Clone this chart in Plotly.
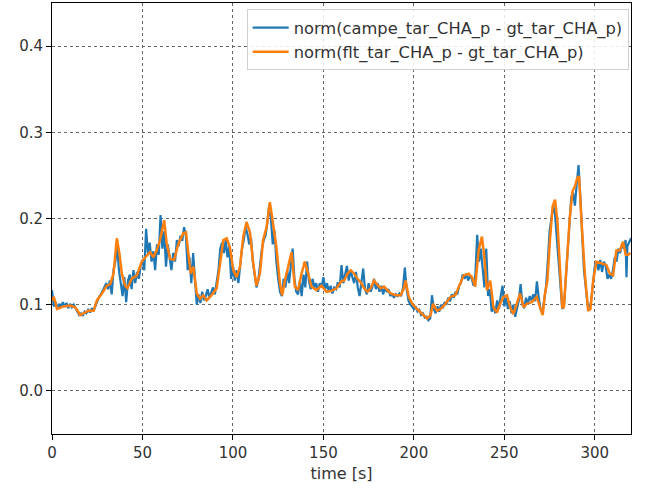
import plotly.graph_objects as go

# ---- data ----
campe_t = [0, 1, 2, 3, 4, 5, 6, 7, 8, 9, 10, 11, 12, 13, 14, 15, 16, 17, 18, 19,
           20, 21, 22, 23, 24, 25, 26, 27, 28, 29, 30, 31, 32, 33, 34, 35, 36, 37, 38, 39,
           40, 41, 42, 43, 44, 45, 46, 47, 48, 49, 50, 51, 52, 53, 54, 55, 56, 57, 58, 59,
           60, 61, 62, 63, 64, 65, 66, 67, 68, 69, 70, 71, 72, 73, 74, 75, 76, 77, 78, 79,
           80, 81, 82, 83, 84, 85, 86, 87, 88, 89, 90, 91, 92, 93, 94, 95, 96, 97, 98, 99,
           100, 101, 102, 103, 104, 105, 106, 107, 108, 109, 110, 111, 112, 113, 114, 115, 116, 117, 118, 119,
           120, 121, 122, 123, 124, 125, 126, 127, 128, 129, 130, 131, 132, 133, 134, 135, 136, 137, 138, 139,
           140, 141, 142, 143, 144, 145, 146, 147, 148, 149, 150, 151, 152, 153, 154, 155, 156, 157, 158, 159,
           160, 161, 162, 163, 164, 165, 166, 167, 168, 169, 170, 171, 172, 173, 174, 175, 176, 177, 178, 179,
           180, 181, 182, 183, 184, 185, 186, 187, 188, 189, 190, 191, 192, 193, 194, 195, 196, 197, 198, 199,
           200, 201, 202, 203, 204, 205, 206, 207, 208, 209, 210, 211, 212, 213, 214, 215, 216, 217, 218, 219,
           220, 221, 222, 223, 224, 225, 226, 227, 228, 229, 230, 231, 232, 233, 234, 235, 236, 237, 238, 239,
           240, 241, 242, 243, 244, 245, 246, 247, 248, 249, 250, 251, 252, 253, 254, 255, 256, 257, 258, 259,
           260, 261, 262, 263, 264, 265, 266, 267, 268, 269, 270, 271, 272, 273, 274, 275, 276, 277, 278, 279,
           280, 281, 282, 283, 284, 285, 286, 287, 288, 289, 290, 291, 292, 293, 294, 295, 296, 297, 298, 299,
           300, 301, 302, 303, 304, 305, 306, 307, 308, 309, 310, 311, 312, 313, 314, 315, 316, 317, 317.5, 318,
           319, 320]
campe_v = [0.117, 0.098, 0.103, 0.095, 0.101, 0.097, 0.103, 0.098, 0.102, 0.096,
           0.101, 0.097, 0.100, 0.095, 0.092, 0.088, 0.090, 0.087, 0.092, 0.090,
           0.094, 0.091, 0.096, 0.093, 0.099, 0.104, 0.109, 0.112, 0.116, 0.120,
           0.125, 0.118, 0.128, 0.112, 0.140, 0.150, 0.168, 0.140, 0.125, 0.110,
           0.132, 0.103, 0.128, 0.135, 0.118, 0.140, 0.125, 0.138, 0.130, 0.145,
           0.152, 0.140, 0.188, 0.160, 0.172, 0.150, 0.162, 0.140, 0.170, 0.158,
           0.204, 0.165, 0.185, 0.144, 0.170, 0.155, 0.140, 0.160, 0.150, 0.175,
           0.168, 0.180, 0.174, 0.190, 0.180, 0.140, 0.155, 0.125, 0.160, 0.130,
           0.100, 0.112, 0.102, 0.115, 0.105, 0.110, 0.118, 0.108, 0.115, 0.120,
           0.112, 0.125, 0.140, 0.165, 0.172, 0.160, 0.175, 0.155, 0.168, 0.130,
           0.145, 0.128, 0.140, 0.125, 0.150, 0.165, 0.175, 0.190, 0.182, 0.170,
           0.178, 0.150, 0.135, 0.120, 0.128, 0.150, 0.165, 0.175, 0.180, 0.195,
           0.215, 0.200, 0.170, 0.186, 0.150, 0.130, 0.115, 0.110, 0.130, 0.120,
           0.140, 0.125, 0.150, 0.165, 0.130, 0.115, 0.112, 0.128, 0.110, 0.135,
           0.120, 0.150, 0.128, 0.118, 0.130, 0.120, 0.125, 0.115, 0.125, 0.120,
           0.132, 0.118, 0.125, 0.115, 0.122, 0.113, 0.120, 0.118, 0.126, 0.120,
           0.146, 0.125, 0.135, 0.145, 0.128, 0.140, 0.132, 0.125, 0.138, 0.120,
           0.110, 0.125, 0.142, 0.118, 0.112, 0.125, 0.115, 0.120, 0.130, 0.118,
           0.125, 0.115, 0.122, 0.112, 0.120, 0.115, 0.118, 0.110, 0.113, 0.108,
           0.112, 0.110, 0.113, 0.110, 0.120, 0.143, 0.118, 0.105, 0.100, 0.098,
           0.095, 0.098, 0.092, 0.094, 0.088, 0.090, 0.085, 0.086, 0.082, 0.084,
           0.111, 0.095, 0.090, 0.098, 0.092, 0.100, 0.096, 0.103, 0.100, 0.108,
           0.104, 0.112, 0.108, 0.115, 0.112, 0.122, 0.125, 0.135, 0.130, 0.136,
           0.128, 0.134, 0.130, 0.122, 0.135, 0.181, 0.150, 0.165, 0.140, 0.120,
           0.165, 0.110, 0.118, 0.092, 0.098, 0.090, 0.105, 0.095, 0.110, 0.122,
           0.098, 0.108, 0.095, 0.104, 0.090, 0.100, 0.086, 0.095, 0.105, 0.124,
           0.100, 0.096, 0.108, 0.100, 0.110, 0.105, 0.112, 0.104, 0.127, 0.108,
           0.095, 0.090, 0.108, 0.120, 0.150, 0.185, 0.200, 0.215, 0.205, 0.175,
           0.150, 0.120, 0.095, 0.100, 0.130, 0.165, 0.195, 0.225, 0.230, 0.215,
           0.240, 0.262, 0.225, 0.175, 0.140, 0.120, 0.100, 0.095, 0.105, 0.125,
           0.145, 0.150, 0.140, 0.152, 0.138, 0.150, 0.145, 0.130, 0.135, 0.130,
           0.140, 0.155, 0.150, 0.165, 0.160, 0.170, 0.165, 0.175, 0.132, 0.168,
           0.172, 0.177]

flt_t = [0, 1, 2.8, 6.4, 10, 12.9, 15.6, 17.5, 20.2, 23, 24.8, 27.6, 30.3, 32.2, 34,
         35.8, 37.3, 38.6, 40.4, 41.7, 44, 46.9, 49.6, 52.4, 54.2, 56, 57.9, 59.7, 62,
         63.4, 65.3, 67.5, 69.9, 72.6, 74.1, 75.4, 76.7, 78.1, 80, 81.8, 83.6, 85.5, 88.2,
         91, 92.8, 94.7, 96.5, 98.3, 100.2, 102, 103.9, 105.7, 107.5, 109.4, 111.2, 113,
         114.9, 116.7, 118.6, 120.4, 121.9, 124, 126, 127.2, 128.7, 130.5, 132.4, 134.2,
         136, 137.9, 139.7, 141.6, 143.4, 146.1, 148.9, 151.7, 154.4, 157.2, 159.9,
         161.5, 163.3, 165.1, 167, 168.8, 170.6, 172.5, 174.3, 176.1, 178, 179.8, 181.7,
         183.5, 185.3, 187.2, 189.9, 192.7, 194.5, 195.4, 197.2, 199.1, 201.8, 204.6,
         207.3, 209.2, 210.6, 212.8, 214.7, 217.4, 220.2, 222.9, 224.8, 227.5, 230.3,
         232.1, 233.9, 235.8, 237.6, 238.9, 240.4, 242.2, 244, 245.9, 247.7, 249.5,
         251.4, 253.2, 255, 256.9, 258.7, 260.6, 262.4, 265.1, 267.9, 269.7, 271.2,
         272.5, 273.8, 275.2, 276.7, 278, 279.3, 280.7, 282, 282.9, 284.4, 286.2, 287.7,
         289, 290.3, 291.3, 292.7, 294.5, 296.3, 297.6, 299.1, 300.9, 303.7, 306.4,
         308.3, 310.1, 311.9, 313.8, 315.6, 317.1, 318.5, 319.6]
flt_v = [0.105, 0.109, 0.095, 0.098, 0.099, 0.097, 0.088, 0.090, 0.093, 0.093, 0.105,
         0.113, 0.122, 0.124, 0.136, 0.177, 0.159, 0.136, 0.122, 0.119, 0.130, 0.134,
         0.150, 0.157, 0.161, 0.155, 0.163, 0.175, 0.198, 0.171, 0.153, 0.152, 0.171,
         0.183, 0.184, 0.159, 0.136, 0.144, 0.113, 0.107, 0.111, 0.105, 0.111, 0.119,
         0.148, 0.175, 0.177, 0.167, 0.140, 0.132, 0.144, 0.179, 0.196, 0.184, 0.148,
         0.122, 0.136, 0.175, 0.190, 0.219, 0.198, 0.167, 0.124, 0.111, 0.128, 0.144,
         0.161, 0.121, 0.117, 0.136, 0.150, 0.136, 0.121, 0.117, 0.122, 0.115, 0.116,
         0.119, 0.127,
         0.128, 0.136, 0.140, 0.136, 0.130, 0.126, 0.119, 0.115, 0.119, 0.128, 0.123,
         0.119, 0.121, 0.117, 0.113, 0.111, 0.111, 0.119, 0.128, 0.109, 0.101, 0.095,
         0.089, 0.084, 0.088, 0.101, 0.093, 0.095, 0.101, 0.109, 0.111, 0.121, 0.134,
         0.136, 0.132, 0.121, 0.163, 0.179, 0.156, 0.117, 0.128, 0.097, 0.091, 0.101,
         0.109, 0.111, 0.097, 0.089, 0.101, 0.113, 0.097, 0.101, 0.103, 0.109, 0.097,
         0.088, 0.113, 0.128, 0.175, 0.214, 0.222, 0.198, 0.144, 0.097, 0.097, 0.144,
         0.202, 0.232, 0.237, 0.247, 0.249, 0.195, 0.136, 0.093, 0.095, 0.128, 0.150,
         0.148, 0.146, 0.136, 0.134, 0.163, 0.163, 0.173, 0.158, 0.158, 0.160]

series_names = ["norm(campe_tar_CHA_p - gt_tar_CHA_p)",
                "norm(flt_tar_CHA_p - gt_tar_CHA_p)"]
x_ticks = [0, 50, 100, 150, 200, 250, 300]
y_ticks = [0.0, 0.1, 0.2, 0.3, 0.4]
y_tick_labels = ["0.0", "0.1", "0.2", "0.3", "0.4"]

fig = go.Figure()
fig.add_trace(go.Scatter(x=campe_t, y=campe_v, mode="lines", name=series_names[0],
                         line=dict(color="#1f77b4", width=2.2)))
fig.add_trace(go.Scatter(x=flt_t, y=flt_v, mode="lines", name=series_names[1],
                         line=dict(color="#ff7f0e", width=2.5)))

axis_common = dict(showline=True, mirror=True, linecolor="black", linewidth=1,
                   ticks="outside", ticklen=5, tickcolor="black",
                   showgrid=True, gridcolor="#666666", griddash="dot", gridwidth=1,
                   zeroline=False, tickfont=dict(family="DejaVu Sans", size=15, color="#333333"))

fig.update_xaxes(range=[0, 320], tickvals=x_ticks,
                 title=dict(text="time [s]", font=dict(family="DejaVu Sans", size=16, color="#333333"),
                            standoff=6),
                 **axis_common)
fig.update_yaxes(range=[-0.05, 0.45], tickvals=y_ticks, ticktext=y_tick_labels, **axis_common)

fig.update_layout(
    width=646, height=489,
    margin=dict(l=52, r=15, t=3, b=55),
    plot_bgcolor="white", paper_bgcolor="white",
    font=dict(family="DejaVu Sans", size=15, color="#333333"),
    showlegend=True,
    legend=dict(x=0.996, y=0.985, xanchor="right", yanchor="top",
                itemwidth=36,
                bgcolor="rgba(255,255,255,0.85)", bordercolor="#d0d0d0", borderwidth=1,
                font=dict(family="DejaVu Sans", size=16.3, color="#333333")),
)

fig.write_html("out.html")
